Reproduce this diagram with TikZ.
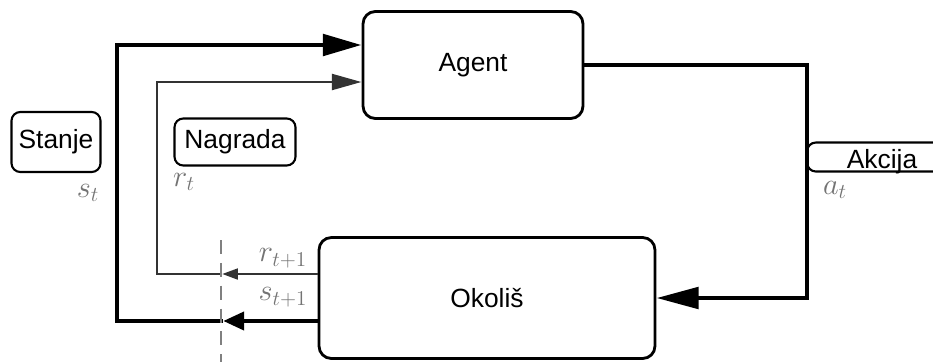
\documentclass[tikz,border=0pt]{standalone}
\usepackage{fontspec}
\setmainfont{Liberation Sans}
\usetikzlibrary{arrows.meta}

\begin{document}
\begin{tikzpicture}[x=0.02cm, y=-0.02cm,
  box/.style={draw, rounded corners=7pt, line width=1.6pt, font=\fontsize{15}{17}\selectfont},
  tag/.style={draw, rounded corners=5pt, line width=1.2pt, inner sep=2pt, font=\fontsize{15}{17}\selectfont},
  sig/.style={color=black!55, font=\fontsize{17}{19}\selectfont},
  heavy/.style={line width=2.8pt, -{Triangle[length=22pt,width=12pt]}},
  light/.style={line width=1.7pt, color=black!80, -{Triangle[length=17pt,width=9pt]}}]
\clip (0,0) rectangle (933,362);
\node[box, minimum width=4.4cm, minimum height=2.14cm] (agent) at (473,65) {Agent};
\node[box, minimum width=6.72cm, minimum height=2.42cm] (okolis) at (487,298) {Okoliš};
\node[tag, minimum width=1.78cm, minimum height=1.2cm] (stanje) at (56,142) {Stanje};
\node[tag, minimum width=2.42cm, minimum height=0.94cm] (nagrada) at (235,142) {Nagrada};
\node[tag, anchor=west, minimum width=3cm, minimum height=0.58cm, inner ysep=0pt, text height=2.6ex, text depth=0.2ex] (akcija) at (806,157) {Akcija};
\coordinate (cutS) at (223,321);
\coordinate (cutR) at (222,274);
\coordinate (sTop) at (117,45);
\coordinate (rTop) at (157,82);
\coordinate (aCol) at (807,0);
\coordinate (cutTop) at (221,240);
\coordinate (cutBot) at (221,362);
% state loop
\draw[heavy, -{Triangle[length=12pt,width=10pt]}] (okolis.west |- cutS) -- (cutS);
\draw[heavy] (cutS) -| (sTop) -- (agent.west |- sTop);
% reward loop
\draw[light, -{Triangle[length=9pt,width=6pt]}] (okolis.west |- cutR) -- (cutR);
\draw[light] (cutR) -| (rTop) -- (agent.west |- rTop);
% action
\draw[heavy, -{Triangle[length=24pt,width=12pt]}] (agent.east) -| (okolis.east -| aCol) -- (okolis.east);
\draw[dashed, gray, line width=1pt, dash pattern=on 8pt off 5pt] (cutTop) -- (cutBot);
\node[sig] (st) at (88,193) {$s_t$};
\node[sig] (rt) at (184,182) {$r_t$};
\node[sig] (at) at (835,190) {$a_t$};
\node[sig] (rnext) at (283,258) {$r_{t+1}$};
\node[sig] (snext) at (283,297) {$s_{t+1}$};
\end{tikzpicture}
\end{document}
